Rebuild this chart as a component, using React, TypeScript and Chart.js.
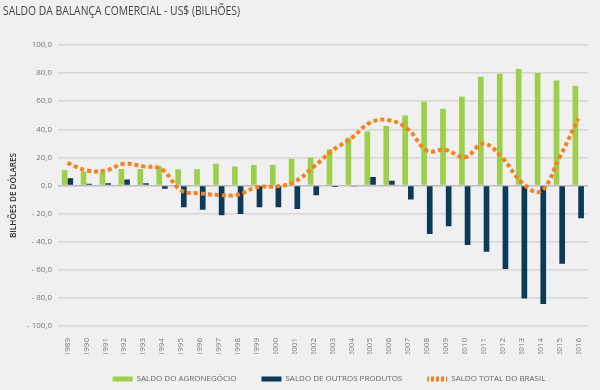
import React, { useEffect, useRef } from "react";
import { Chart, registerables } from "chart.js";

Chart.register(...registerables);

const years = [
  "1989", "1990", "1991", "1992", "1993", "1994", "1995", "1996", "1997", "1998",
  "1999", "2000", "2001", "2002", "2003", "2004", "2005", "2006", "2007", "2008",
  "2009", "2010", "2011", "2012", "2013", "2014", "2015", "2016",
];

const agronegocio = [
  10.8, 9.9, 9.2, 11.8, 11.8, 13.6, 11.5, 11.5, 15.5, 13.6,
  14.6, 14.6, 19.1, 20.0, 25.8, 33.9, 38.4, 42.4, 49.8, 59.6,
  54.7, 63.1, 77.4, 79.6, 83.0, 80.1, 74.8, 71.0,
];

const outrosProdutos = [
  5.2, 1.2, 1.6, 4.2, 1.6, -2.4, -15.5, -17.2, -21.2, -20.2,
  -15.5, -15.5, -16.7, -7.0, -1.0, -0.4, 6.0, 3.3, -9.9, -34.5,
  -29.0, -42.4, -47.1, -59.5, -80.5, -84.3, -55.7, -23.3,
];

const saldoTotal = [
  16.1, 10.8, 10.6, 15.5, 13.6, 11.4, -3.5, -5.6, -6.8, -6.6,
  -1.2, -0.7, 2.6, 13.1, 24.8, 33.6, 44.7, 46.5, 40.0, 24.9,
  25.3, 20.1, 29.8, 19.4, 2.4, -4.2, 19.7, 47.7,
];

const seriesNames = ["SALDO DO AGRONEGÓCIO", "SALDO DE OUTROS PRODUTOS", "SALDO TOTAL DO BRASIL"];
const chartTitle = "SALDO DA BALANÇA COMERCIAL - US$ (BILHÕES)";
const yAxisTitle = "BILHÕES DE DÓLARES";
const yTicksMin = -100;
const yTicksMax = 100;
const yTickStep = 20;

const GREEN = "#9dcf4a";
const NAVY = "#0d3a58";
const ORANGE = "#f7801f";
const FONT = "'Open Sans', 'Liberation Sans', sans-serif";

function fmt(v: number): string {
  const s = Math.abs(v).toFixed(1).replace(".", ",");
  return v < 0 ? "- " + s : s;
}

const titlePlugin = {
  id: "condensedTitle",
  afterLayout(chart: any) {
    const lg = chart.legend;
    if (lg) {
      lg.top -= 4;
      lg.bottom -= 4;
      lg.left += 33;
      lg.right += 33;
    }
  },
  afterDraw(chart: any) {
    const ctx = chart.ctx as CanvasRenderingContext2D;
    ctx.save();
    ctx.font = `13px ${FONT}`;
    ctx.fillStyle = "#444";
    ctx.textBaseline = "middle";
    ctx.textAlign = "left";
    const w = ctx.measureText(chartTitle).width;
    const sx = 237 / w;
    ctx.translate(3, 11);
    ctx.scale(sx, 1);
    ctx.fillText(chartTitle, 0, 0);
    ctx.restore();

    ctx.save();
    ctx.font = `600 9px ${FONT}`;
    ctx.fillStyle = "#333";
    ctx.textBaseline = "middle";
    ctx.textAlign = "center";
    const w2 = ctx.measureText(yAxisTitle).width;
    const sy = 85 / w2;
    ctx.translate(13, 195.5);
    ctx.rotate(-Math.PI / 2);
    ctx.scale(sy, 1);
    ctx.fillText(yAxisTitle, 0, 0);
    ctx.restore();
  },
};

export default function App() {
  const ref = useRef<HTMLCanvasElement | null>(null);

  useEffect(() => {
    const canvas = ref.current;
    if (!canvas) return;
    const pc = document.createElement("canvas");
    pc.width = 5;
    pc.height = 5;
    const pctx = pc.getContext("2d")!;
    pctx.fillStyle = ORANGE;
    pctx.fillRect(1, 0, 3, 5);
    const pattern = pctx.createPattern(pc, "repeat");

    const chart = new Chart(canvas, {
      type: "bar",
      data: {
        labels: years,
        datasets: [
          {
            type: "bar",
            label: seriesNames[0],
            data: agronegocio,
            backgroundColor: GREEN,
            categoryPercentage: 0.6,
            barPercentage: 1.0,
            order: 1,
          },
          {
            type: "bar",
            label: seriesNames[1],
            data: outrosProdutos,
            backgroundColor: NAVY,
            categoryPercentage: 0.6,
            barPercentage: 1.0,
            order: 1,
          },
          {
            type: "line",
            label: seriesNames[2],
            data: saldoTotal,
            borderColor: ORANGE,
            backgroundColor: ORANGE,
            borderWidth: 4,
            borderDash: [4, 3],
            pointRadius: 0,
            tension: 0.4,
            fill: false,
            order: 0,
          } as any,
        ],
      },
      plugins: [titlePlugin],
      options: {
        animation: false,
        responsive: false,
        layout: { padding: { left: 0, right: 8, top: 45, bottom: 0 } },
        plugins: {
          title: { display: false },
          legend: {
            position: "bottom",
            maxHeight: 36,
            labels: {
              boxWidth: 20,
              boxHeight: 5,
              padding: 25,
              color: "#666",
              font: { family: FONT, size: 8 },
              generateLabels: () =>
                seriesNames.map((n, i) => ({
                  text: n,
                  fillStyle: i === 0 ? GREEN : i === 1 ? NAVY : (pattern as any),
                  strokeStyle: "rgba(0,0,0,0)",
                  lineWidth: 0,
                  hidden: false,
                  datasetIndex: i,
                  fontColor: "#666",
                })),
            },
          } as any,
          tooltip: { enabled: false },
        },
        scales: {
          x: {
            offset: true,
            afterFit: (scale: any) => {
              scale.height = 28;
            },
            grid: { display: false, drawTicks: false },
            border: { display: false },
            ticks: {
              color: "#777",
              font: { family: FONT, size: 8 },
              maxRotation: 90,
              minRotation: 90,
              autoSkip: false,
              padding: 12,
            },
          },
          y: {
            min: yTicksMin,
            max: yTicksMax,
            afterFit: (scale: any) => {
              scale.width = 58;
            },
            grid: {
              drawTicks: false,
              color: (ctx: any) => (ctx.tick && ctx.tick.value === 0 ? "#bdbdbd" : "#d6d6d6"),
              lineWidth: 1.5,
            },
            border: { display: false },
            ticks: {
              stepSize: yTickStep,
              color: "#777",
              font: { family: FONT, size: 8 },
              padding: 6,
              callback: (v: any) => fmt(Number(v)),
            },
            title: { display: false },
          },
        },
      },
    });
    return () => chart.destroy();
  }, []);

  return (
    <div
      style={{
        position: "fixed",
        left: 0,
        top: 0,
        width: 600,
        height: 390,
        background: "#f0f0f0",
      }}
    >
      <canvas ref={ref} width={600} height={390} style={{ display: "block", width: 600, height: 390 }} />
    </div>
  );
}
